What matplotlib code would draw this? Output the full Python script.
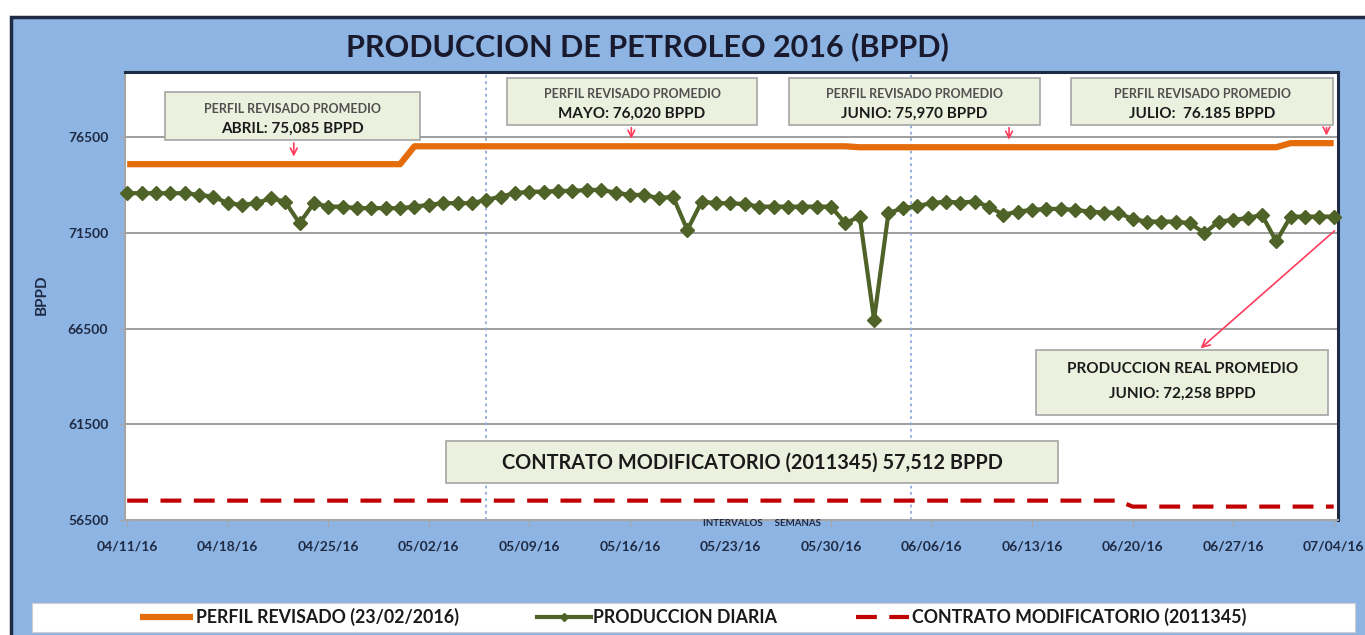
import numpy as np
import pandas as pd
import matplotlib
matplotlib.use("Agg")
import matplotlib.pyplot as plt
import matplotlib.dates as mdates
from matplotlib.patches import Rectangle

plt.rcParams['font.family'] = ['Lato', 'DejaVu Sans']

# datos (produccion diaria 11/04/2016 - 04/07/2016)
fechas = pd.date_range("2016-04-11", "2016-07-04", freq="D")
produccion = [73570, 73570, 73570, 73570, 73570, 73480, 73390, 73050, 72960, 73050,
              73300, 73130, 72000, 73050, 72870, 72870, 72790, 72790, 72790, 72790,
              72870, 72960, 73050, 73050, 73050, 73220, 73390, 73570, 73650, 73650,
              73690, 73690, 73740, 73740, 73600, 73480, 73480, 73310, 73390, 71650,
              73130, 73050, 73050, 73000, 72870, 72870, 72870, 72870, 72870, 72870,
              72000, 72350, 66970, 72530, 72790, 72900, 73050, 73130, 73080, 73130,
              72870, 72440, 72610, 72700, 72750, 72750, 72700, 72610, 72560, 72560,
              72210, 72090, 72090, 72090, 72000, 71480, 72090, 72180, 72270, 72440,
              71050, 72350, 72350, 72350, 72350]

meses = [4, 5, 6, 7]
perfil_mes = [75085, 76020, 75970, 76185]
contrato_valores = [57512, 57200]
contrato_cambio = "2016-06-20"

semanas = ["04/11/16", "04/18/16", "04/25/16", "05/02/16", "05/09/16", "05/16/16", "05/23/16",
           "05/30/16", "06/06/16", "06/13/16", "06/20/16", "06/27/16", "07/04/16"]
yticks = [56500, 61500, 66500, 71500, 76500]
lineas_verticales = ["2016-05-06 00:00", "2016-06-04 14:00"]

perfil = np.array([dict(zip(meses, perfil_mes))[m] for m in fechas.month])
contrato = np.where(fechas < pd.Timestamp(contrato_cambio), contrato_valores[0], contrato_valores[1])

W, H = 1365, 635
fig = plt.figure(figsize=(W / 100, H / 100), dpi=100)
fig.patch.set_facecolor("white")
azul = "#8DB4E2"
oscuro = "#1F2A44"
fig.patches.append(Rectangle((11 / W, -0.05), 1.05, 1 - 17 / H + 0.05, transform=fig.transFigure,
                             facecolor=azul, edgecolor=oscuro, lw=2.5, zorder=-3))
# caja blanca de la leyenda
fig.patches.append(Rectangle((32 / W, 3 / H), 1323 / W, 29 / H, transform=fig.transFigure,
                             facecolor="white", edgecolor="#D0D0D0", lw=0.8, zorder=-2))

ax = fig.add_axes([125 / W, 1 - 520 / H, 1213 / W, 448 / H])
ax.set_facecolor("white")

l1, = ax.plot(fechas, perfil, color="#E46C0A", lw=4.5, solid_capstyle="butt", zorder=3)
l2, = ax.plot(fechas, produccion, color="#4F6228", lw=3, marker="D", ms=7.5, zorder=4, clip_on=False)
l3, = ax.plot(fechas, contrato, color="#C00000", lw=3, dashes=(5, 3), zorder=3)

for f in lineas_verticales:
    ax.axvline(pd.Timestamp(f), color="#8EA9DB", lw=1.3, ls=(0, (1.5, 2)), zorder=2)

x0 = mdates.date2num(fechas[0])
ax.set_xlim(x0 - 0.15, x0 + 84.3)
ax.set_ylim(56500, 79900)
ax.set_yticks(yticks)
ax.set_yticklabels([str(v) for v in yticks])
ax.set_xticks(fechas[::7])
ax.set_xticklabels(semanas)
ax.yaxis.grid(True, color="#969696", lw=1.3, zorder=1)
ax.tick_params(axis="y", labelsize=10, length=4, color="#A6A6A6", pad=8, labelcolor=oscuro)
ax.tick_params(axis="x", labelsize=10, length=4, color="#A6A6A6", pad=11, labelcolor=oscuro)
for t in ax.get_xticklabels() + ax.get_yticklabels():
    t.set_fontweight("bold")
for s in ["top", "right"]:
    ax.spines[s].set_color(oscuro)
    ax.spines[s].set_linewidth(2.2)
for s in ["left", "bottom"]:
    ax.spines[s].set_color("#A6A6A6")
    ax.spines[s].set_linewidth(1.5)


def caja(xa, xb, ya, yb, lineas):
    ax.add_patch(Rectangle((xa, ya), xb - xa, yb - ya, transform=ax.transAxes, facecolor="#EBF1DE",
                           edgecolor="#A6A6A6", lw=1.2, zorder=6, clip_on=False))
    for txt, y, size, col in lineas:
        ax.text((xa + xb) / 2, y, txt, transform=ax.transAxes, ha="center", va="center",
                fontsize=size, fontweight="bold", color=col, zorder=7)


gris = "#505050"
negro = "#1A1A1A"
caja(0.033, 0.243, 0.848, 0.955, [("PERFIL REVISADO PROMEDIO", 0.918, 9, gris),
                                  ("ABRIL: 75,085 BPPD", 0.873, 11, negro)])
caja(0.315, 0.521, 0.882, 0.987, [("PERFIL REVISADO PROMEDIO", 0.950, 9, gris),
                                  ("MAYO: 76,020 BPPD", 0.906, 11, negro)])
caja(0.547, 0.754, 0.882, 0.987, [("PERFIL REVISADO PROMEDIO", 0.950, 9, gris),
                                  ("JUNIO: 75,970 BPPD", 0.906, 11, negro)])
caja(0.780, 0.996, 0.882, 0.987, [("PERFIL REVISADO PROMEDIO", 0.950, 9, gris),
                                  ("JULIO:  76.185 BPPD", 0.906, 11, negro)])
caja(0.751, 0.992, 0.234, 0.379, [("PRODUCCION REAL PROMEDIO", 0.337, 11, negro),
                                  ("JUNIO: 72,258 BPPD", 0.281, 11, negro)])
caja(0.265, 0.769, 0.083, 0.176, [("CONTRATO MODIFICATORIO (2011345) 57,512 BPPD", 0.129, 14.3, negro)])

rojo = "#FF3B5C"
flechas = [(11.6, 0.848, perfil_mes[0]), (35.1, 0.882, perfil_mes[1]),
           (61.4, 0.882, perfil_mes[2]), (83.5, 0.882, perfil_mes[3])]
for d, yf, v in flechas:
    xf = (d + 0.15) / 84.45
    ax.annotate("", xy=(x0 + d, v + 250), xycoords="data", xytext=(xf, yf), textcoords="axes fraction",
                arrowprops=dict(arrowstyle="->", color=rojo, lw=1.2, mutation_scale=12), zorder=8)
ax.annotate("", xy=(0.885, 0.379), xycoords="axes fraction", xytext=(x0 + 84.2, 71700), textcoords="data",
            arrowprops=dict(arrowstyle="->", color=rojo, lw=1.2, mutation_scale=14), zorder=8)

fig.text(647 / W, 1 - 47 / H, "PRODUCCION DE PETROLEO 2016 (BPPD)", ha="center", va="center",
         fontsize=22, fontweight="bold", color="#1A1A2E")
fig.text(42 / W, 1 - 295 / H, "BPPD", rotation=90, ha="center", va="center", fontsize=11,
         fontweight="bold", color=oscuro)
fig.text(762 / W, 1 - 523 / H, "INTERVALOS     SEMANAS", ha="center", va="center", fontsize=7,
         fontweight="bold", color=oscuro)

leg = fig.legend([l1, l2, l3], ["PERFIL REVISADO (23/02/2016)", "PRODUCCION DIARIA",
                                "CONTRATO MODIFICATORIO (2011345)"],
                 loc="center", bbox_to_anchor=(693 / W, 1 - 617 / H), ncol=3, frameon=False,
                 prop={"weight": "bold", "size": 12.8}, handlelength=3.0, columnspacing=4.4,
                 handletextpad=0.15, numpoints=1, markerscale=0.6)
for t in leg.get_texts():
    t.set_color(negro)

fig.savefig("out.png", dpi=100, facecolor=fig.get_facecolor())
